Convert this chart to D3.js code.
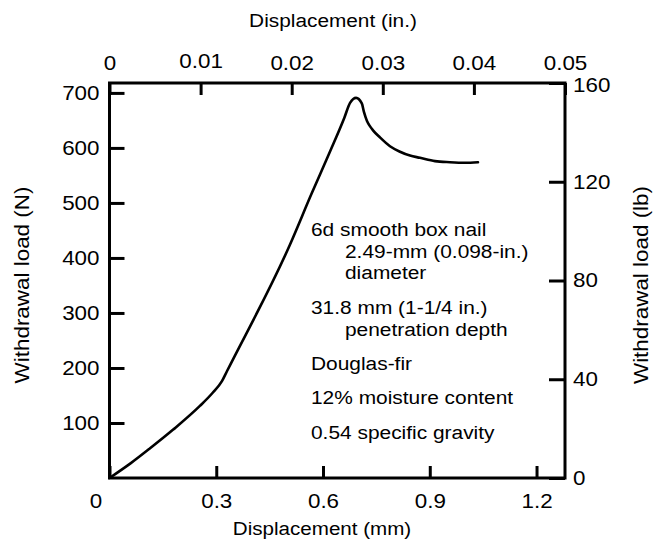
<!DOCTYPE html>
<html>
<head>
<meta charset="utf-8">
<script src="https://cdn.jsdelivr.net/npm/d3@7"></script>
<style>
  html, body { margin: 0; padding: 0; background: #fff; }
  svg { display: block; }
  text { font-family: "Liberation Sans", Arial, Helvetica, sans-serif; fill: #000; }
</style>
</head>
<body>
<svg id="chart" width="656" height="548"></svg>
<script>
// ---- data ----
const displacementMm = [0, 0.060, 0.114, 0.179, 0.254, 0.290, 0.316, 0.330, 0.507, 0.568, 0.620, 0.660, 0.676, 0.693, 0.709, 0.7152, 0.7236, 0.7313, 0.7405, 0.7602, 0.7882, 0.8163, 0.8444, 0.8725, 0.9147, 0.9568, 0.9989, 1.0355];
const loadN          = [0,    27,    54,    88,   131,   155,   176,   194,   424,   517,   594,   655,   682,   691,   681,   665,    649,    640,    632,    619,    603,    593,    586,    582,    576,    574,    573,    574];

const bottomTicksMm = [0, 0.3, 0.6, 0.9, 1.2];
const topTicksIn    = [0, 0.01, 0.02, 0.03, 0.04, 0.05];
const leftTicksN    = [100, 200, 300, 400, 500, 600, 700];
const rightTicksLb  = [0, 40, 80, 120, 160];

const textLines = [
  "6d smooth box nail", "2.49-mm (0.098-in.)", "diameter",
  "31.8 mm (1-1/4 in.)", "penetration depth",
  "Douglas-fir", "12% moisture content", "0.54 specific gravity"
];
const textIndent = [0, 1, 1, 0, 1, 0, 0, 0];
const textBaseline = [236, 258, 279, 314, 336, 370, 404, 439];

// ---- layout ----
const L = 109.5, R = 565, T = 83, B = 478;
const SX = 1.12; // glyphs in the reference are a little wider than Liberation Sans
const svg = d3.select("#chart");

const x  = d3.scaleLinear().domain([0, 1.28]).range([L, R]);
const xi = d3.scaleLinear().domain([0, 0.05]).range([L, R]);
const y  = d3.scaleLinear().domain([0, 718]).range([B, T]);
const yl = d3.scaleLinear().domain([0, 160]).range([B, T]);

const tickFont = 20;

function styleAxis(g) {
  g.select(".domain").remove();
  g.selectAll(".tick line").attr("stroke", "#000").attr("stroke-width", 3);
  g.selectAll(".tick text").attr("font-size", tickFont).attr("fill", "#000")
    .attr("font-family", "Liberation Sans, Arial, sans-serif")
    .attr("x", function() { return (+d3.select(this).attr("x") || 0) / SX; })
    .attr("transform", `scale(${SX},1)`);
}

// bottom axis (mm)
const gB = svg.append("g").attr("transform", `translate(0,${B})`)
  .call(d3.axisBottom(x).tickValues(bottomTicksMm).tickSize(-12).tickPadding(16)
    .tickFormat(d => d === 0 ? "0" : d3.format(".1f")(d)))
  .call(styleAxis);
gB.selectAll(".tick").filter(d => d === 0).select("text").attr("dx", -14 / SX);

// top axis (in.)
const gT = svg.append("g").attr("transform", `translate(0,${T})`)
  .call(d3.axisTop(xi).tickValues(topTicksIn).tickSize(-12).tickPadding(13)
    .tickFormat(d => d === 0 ? "0" : d3.format(".2f")(d)))
  .call(styleAxis);
gT.selectAll(".tick").filter(d => Math.abs(d - 0.01) < 1e-9).select("text").attr("dy", -2);

// left axis (N)
svg.append("g").attr("transform", `translate(${L},0)`)
  .call(d3.axisLeft(y).tickValues(leftTicksN).tickSize(-15).tickPadding(10))
  .call(styleAxis);

// right axis (lb)
const gR = svg.append("g").attr("transform", `translate(${R},0)`)
  .call(d3.axisRight(yl).tickValues(rightTicksLb).tickSize(-16).tickPadding(8))
  .call(styleAxis);
gR.selectAll(".tick").filter(d => d === 160).select("text").attr("dy", "0.42em");

// frame
svg.append("rect")
  .attr("x", L).attr("y", T).attr("width", R - L).attr("height", B - T)
  .attr("fill", "none").attr("stroke", "#000").attr("stroke-width", 3);

// curve
const pts = displacementMm.map((d, i) => [d, loadN[i]]);
const line = d3.line().x(d => x(d[0])).y(d => y(d[1])).curve(d3.curveMonotoneX);
svg.append("path").datum(pts)
  .attr("d", line)
  .attr("fill", "none").attr("stroke", "#000").attr("stroke-width", 2.6)
  .attr("stroke-linejoin", "round").attr("stroke-linecap", "round");

// axis titles
svg.append("text").attr("transform", `translate(333,27) scale(${SX},1)`).attr("text-anchor", "middle")
  .attr("font-size", 18.6).text("Displacement (in.)");
svg.append("text").attr("transform", `translate(322,535) scale(${SX},1)`).attr("text-anchor", "middle")
  .attr("font-size", 18.4).text("Displacement (mm)");
svg.append("text").attr("transform", "translate(29,285) rotate(-90) scale(1.15,1)").attr("text-anchor", "middle")
  .attr("font-size", 19.5).text("Withdrawal load (N)");
svg.append("text").attr("transform", "translate(648,285) rotate(-90) scale(1.15,1)").attr("text-anchor", "middle")
  .attr("font-size", 19.5).text("Withdrawal load (lb)");

// annotation block
svg.append("g").selectAll("text").data(textLines).join("text")
  .attr("transform", (d, i) => `translate(${311 + textIndent[i] * 34},${textBaseline[i]}) scale(1.1,1)`)
  .attr("font-size", 19)
  .text(d => d);
</script>
</body>
</html>
